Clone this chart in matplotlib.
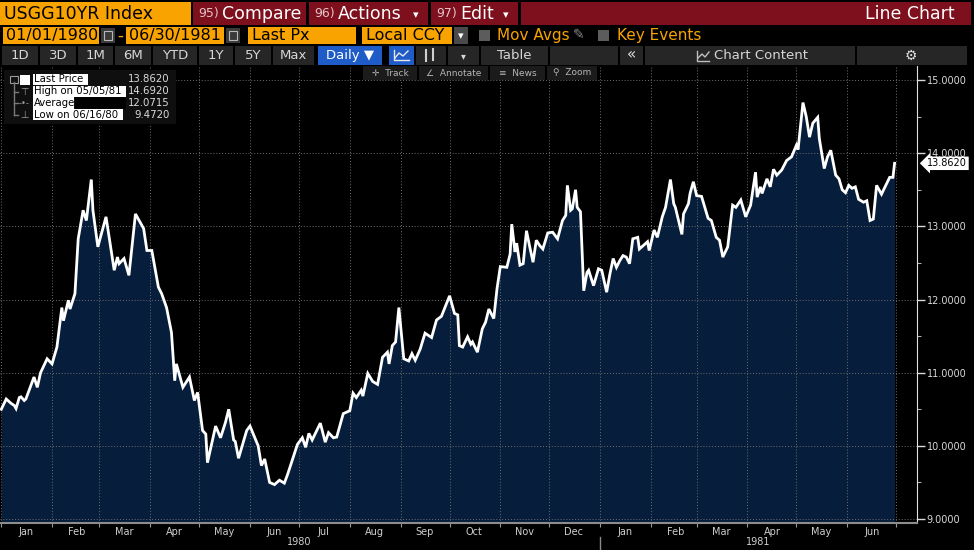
import matplotlib

matplotlib.use("Agg")
import matplotlib.dates as mdates  # noqa: E402
import matplotlib.pyplot as plt  # noqa: E402
import numpy as np  # noqa: E402
from matplotlib.lines import Line2D  # noqa: E402
from matplotlib.patches import Rectangle  # noqa: E402
from matplotlib.ticker import FuncFormatter, MultipleLocator, NullFormatter  # noqa: E402

# USGG10YR daily close (month-day, yield %)
dates_1980 = [
    "01-01", "01-04", "01-07", "01-09", "01-10", "01-12", "01-13", "01-15", "01-16", "01-21",
    "01-23", "01-25", "01-29", "02-01", "02-04", "02-07", "02-08", "02-11", "02-12", "02-15",
    "02-17", "02-20", "02-22", "02-25", "02-26", "02-29", "03-05", "03-10", "03-12", "03-13",
    "03-16", "03-19", "03-23", "03-28", "03-30", "04-02", "04-06", "04-08", "04-11", "04-14",
    "04-16", "04-17", "04-21", "04-25", "04-28", "04-30", "05-03", "05-05", "05-06", "05-11",
    "05-14", "05-17", "05-19", "05-22", "05-23", "05-25", "05-30", "06-01", "06-06", "06-08",
    "06-10", "06-13", "06-16", "06-19", "06-22", "06-24", "06-30", "07-03", "07-05", "07-07",
    "07-09", "07-14", "07-17", "07-19", "07-22", "07-24", "07-28", "08-01", "08-03", "08-05",
    "08-08", "08-09", "08-12", "08-15", "08-18", "08-21", "08-24", "08-25", "08-27", "08-29",
    "08-31", "09-03", "09-06", "09-08", "09-10", "09-13", "09-16", "09-18", "09-20", "09-23",
    "09-26", "10-01", "10-04", "10-06", "10-07", "10-09", "10-12", "10-14", "10-15", "10-18",
    "10-21", "10-23", "10-25", "10-28", "10-30", "11-01", "11-05", "11-07", "11-08", "11-10",
    "11-11", "11-13", "11-15", "11-17", "11-19", "11-21", "11-23", "11-25", "11-27", "11-30",
    "12-03", "12-06", "12-09", "12-11", "12-12", "12-14", "12-15", "12-17", "12-18", "12-20",
    "12-22", "12-24", "12-25", "12-28", "12-31",
]
yld_1980 = [
    10.50, 10.64, 10.58, 10.55, 10.51, 10.66, 10.67, 10.62, 10.64, 10.94,
    10.80, 11.00, 11.19, 11.12, 11.35, 11.89, 11.71, 11.99, 11.87, 12.08,
    12.83, 13.22, 13.08, 13.64, 13.22, 12.72, 13.13, 12.40, 12.58, 12.49,
    12.56, 12.33, 13.17, 12.97, 12.67, 12.67, 12.17, 12.08, 11.89, 11.55,
    10.89, 11.12, 10.80, 10.94, 10.62, 10.73, 10.21, 10.16, 9.77, 10.27,
    10.11, 10.32, 10.50, 10.08, 10.06, 9.83, 10.21, 10.27, 10.00, 9.73,
    9.82, 9.50, 9.47, 9.53, 9.49, 9.61, 10.02, 10.11, 9.98, 10.17,
    10.08, 10.31, 10.05, 10.18, 10.11, 10.12, 10.44, 10.48, 10.72, 10.66,
    10.76, 10.68, 10.99, 10.88, 10.84, 11.21, 11.28, 11.12, 11.37, 11.42,
    11.89, 11.19, 11.16, 11.26, 11.17, 11.32, 11.54, 11.51, 11.48, 11.72,
    11.77, 12.05, 11.81, 11.79, 11.37, 11.35, 11.49, 11.39, 11.42, 11.28,
    11.60, 11.69, 11.87, 11.74, 12.15, 12.45, 12.44, 12.62, 13.03, 12.65,
    12.77, 12.47, 12.49, 12.94, 12.72, 12.51, 12.81, 12.74, 12.69, 12.91,
    12.92, 12.83, 13.08, 13.15, 13.56, 13.22, 13.24, 13.50, 13.26, 13.20,
    12.12, 12.37, 12.40, 12.19, 12.42,
]
dates_1981 = [
    "01-02", "01-05", "01-07", "01-09", "01-11", "01-13", "01-15", "01-17", "01-19", "01-21",
    "01-24", "01-25", "01-30", "01-31", "02-03", "02-05", "02-08", "02-10", "02-13", "02-15",
    "02-16", "02-20", "02-21", "02-24", "02-25", "02-27", "03-01", "03-04", "03-08", "03-10",
    "03-13", "03-15", "03-17", "03-20", "03-23", "03-25", "03-28", "03-31", "04-03", "04-06",
    "04-07", "04-09", "04-10", "04-13", "04-15", "04-17", "04-19", "04-22", "04-25", "04-28",
    "05-01", "05-02", "05-05", "05-07", "05-09", "05-11", "05-14", "05-15", "05-18", "05-20",
    "05-22", "05-25", "05-27", "05-29", "05-31", "06-02", "06-04", "06-06", "06-08", "06-11",
    "06-13", "06-15", "06-17", "06-19", "06-22", "06-25", "06-27", "06-29", "06-30",
]
yld_1981 = [
    12.40, 12.10, 12.35, 12.56, 12.44, 12.53, 12.60, 12.58, 12.49, 12.83,
    12.85, 12.69, 12.79, 12.67, 12.95, 12.85, 13.13, 13.26, 13.64, 13.31,
    13.26, 12.89, 13.17, 13.31, 13.45, 13.61, 13.42, 13.41, 13.11, 13.08,
    12.85, 12.81, 12.58, 12.72, 13.29, 13.26, 13.36, 13.13, 13.29, 13.74,
    13.40, 13.54, 13.45, 13.65, 13.54, 13.78, 13.70, 13.77, 13.90, 13.95,
    14.11, 14.05, 14.692, 14.50, 14.22, 14.41, 14.49, 14.20, 13.79, 13.95,
    14.04, 13.70, 13.65, 13.50, 13.46, 13.56, 13.52, 13.54, 13.37, 13.33,
    13.35, 13.08, 13.10, 13.56, 13.44, 13.58, 13.67, 13.67, 13.862,
]

legend_labels = ["Last Price", "High on 05/05/81", "Average", "Low on 06/16/80"]
legend_values = ["13.8620", "14.6920", "12.0715", "9.4720"]
last_px = 13.862
range_buttons = ["1D", "3D", "1M", "6M", "YTD", "1Y", "5Y", "Max"]

W, H = 974, 550
ORANGE = "#f8a300"
RED = "#7e0f1d"
BTN = "#262626"
BLUE = "#1f5cc8"
FILL = "#061e3b"

dates = np.array([f"1980-{d}" for d in dates_1980] + [f"1981-{d}" for d in dates_1981],
                 dtype="datetime64[D]")
ylds = np.array(yld_1980 + yld_1981)

fig = plt.figure(figsize=(W / 100, H / 100), dpi=100, facecolor="black")


def rect(x0, y0, x1, y1, fc, ec="none", lw=0.8):
    fig.add_artist(Rectangle((x0 / W, 1 - y1 / H), (x1 - x0) / W, (y1 - y0) / H,
                             transform=fig.transFigure, fc=fc, ec=ec, lw=lw))


def txt(x, y, s, **kw):
    kw.setdefault("va", "center")
    fig.text(x / W, 1 - y / H, s, **kw)


def seg(xs, ys, color, lw=1.0):
    fig.add_artist(Line2D([x / W for x in xs], [1 - y / H for y in ys],
                          transform=fig.transFigure, color=color, lw=lw))


# ---- chart -----------------------------------------------------------------
ax = fig.add_axes([0, 1 - 523 / H, 917 / W, (523 - 66) / H])
ax.set_facecolor("black")
ax.fill_between(dates, ylds, 8.0, color=FILL, lw=0, zorder=1)
ax.plot(dates, ylds, color="white", lw=2.0, zorder=3, solid_joinstyle="miter")

d0 = mdates.date2num(np.datetime64("1980-01-01"))
ax.set_xlim(d0 - 0.8, d0 + 559.7)
ax.set_ylim(9 - 4 / 73, 15 + 14 / 73)

ax.yaxis.tick_right()
ax.yaxis.set_major_locator(MultipleLocator(1))
ax.yaxis.set_minor_locator(MultipleLocator(0.5))
ax.yaxis.set_major_formatter(FuncFormatter(lambda v, _: f"{v:.4f}"))
ax.tick_params(axis="y", which="major", length=6, width=1, color="#d8d8d8",
               labelcolor="#d8d8d8", labelsize=7, pad=1)
ax.tick_params(axis="y", which="minor", length=3, color="#d8d8d8")

ax.xaxis.set_major_locator(mdates.MonthLocator())
ax.xaxis.set_major_formatter(NullFormatter())
ax.xaxis.set_minor_locator(mdates.MonthLocator(bymonthday=16))
ax.xaxis.set_minor_formatter(mdates.DateFormatter("%b"))
ax.tick_params(axis="x", which="major", length=3, color="#9a9a9a")
ax.tick_params(axis="x", which="minor", length=0, labelsize=7, labelcolor="#cfcfcf", pad=3)

for s in ("top", "left"):
    ax.spines[s].set_visible(False)
ax.spines["right"].set_color("#e0e0e0")
ax.spines["bottom"].set_color("#8c8c8c")
ax.spines["bottom"].set_linewidth(1.5)
ax.grid(True, which="major", color="#6e6e6e", ls=(0, (1, 2)), lw=0.7)

# year labels under the months
jan81 = mdates.date2num(np.datetime64("1981-01-01"))
xt = ax.get_xaxis_transform()
ax.text(mdates.date2num(np.datetime64("1980-07-01")), -0.042, "1980", transform=xt,
        ha="center", va="center", size=7, color="#cfcfcf")
ax.text((jan81 + ax.get_xlim()[1]) / 2, -0.042, "1981", transform=xt,
        ha="center", va="center", size=7, color="#cfcfcf")
ax.plot([jan81, jan81], [-0.03, -0.057], transform=xt, clip_on=False,
        color="#8a8a8a", lw=1)

# last price tag on the right axis
ax.text(1.011, last_px, legend_values[0], transform=ax.get_yaxis_transform(),
        ha="left", va="center", size=7, color="black",
        bbox=dict(boxstyle="larrow,pad=0.18", fc="white", ec="none"))

# ---- header row 1 ----------------------------------------------------------
rect(0, 2, 191, 25, ORANGE)
txt(4, 14, "USGG10YR Index", size=12.5, color="black")
for x0, x1, num, word, arrow in [(193, 306, "95)", "Compare", False),
                                 (309, 428, "96)", "Actions", True),
                                 (431, 518, "97)", "Edit", True)]:
    rect(x0, 2, x1, 25, RED)
    txt(x0 + 5, 14, num, size=9, color="#e3c4c8")
    txt(x0 + 29, 14, word, size=12.5, color="white")
    if arrow:
        txt(x1 - 12, 15, "▾", size=8, color="white", ha="center")
rect(521, 2, 971, 25, RED)
txt(955, 14, "Line Chart", size=12.5, color="white", ha="right")

# ---- header row 2 ----------------------------------------------------------
rect(3, 27, 99, 44, ORANGE)
txt(6, 35.5, "01/01/1980", size=11.5, color="black")
txt(120, 35.5, "-", size=12, color=ORANGE, ha="center")
rect(126, 27, 224, 44, ORANGE)
txt(129, 35.5, "06/30/1981", size=11.5, color="black")
for cx in (108, 233):
    rect(cx - 7, 28, cx + 7, 43, "#3a3a3a")
    rect(cx - 4, 31, cx + 4, 40, "none", ec="#b8b8b8")
rect(248, 27, 356, 44, ORANGE)
txt(252, 35.5, "Last Px", size=11.5, color="black")
rect(362, 27, 452, 44, ORANGE)
txt(366, 35.5, "Local CCY", size=11.5, color="black")
rect(454, 27, 468, 44, "#4a4a4a")
txt(461, 36, "▾", size=8, color="white", ha="center")
rect(479, 30, 490, 41, "#5c5c5c")
txt(497, 35.5, "Mov Avgs", size=11, color=ORANGE)
txt(573, 35.5, "✎", size=10, color="#8a8a8a")
rect(598, 30, 609, 41, "#5c5c5c")
txt(617, 35.5, "Key Events", size=11, color=ORANGE)

# ---- header row 3 ----------------------------------------------------------
btn_x = [(2, 38), (40, 76), (78, 113), (115, 151), (153, 197), (199, 233), (235, 271), (273, 314)]
for (x0, x1), lab in zip(btn_x, range_buttons):
    rect(x0, 46, x1, 65, BTN)
    txt((x0 + x1) / 2, 55.5, lab, size=9.5, color="#d6d6d6", ha="center")
rect(318, 46, 382, 65, BLUE)
txt(350, 55.5, "Daily ▼", size=9.5, color="white", ha="center")
rect(389, 46, 414, 65, BLUE)
seg([394, 394, 409], [50, 60, 60], "#e8e8e8")
seg([395, 399, 403, 408], [58, 53, 56, 51], "#e8e8e8")
rect(416, 46, 446, 65, BTN)
seg([426, 426], [50, 61], "#d0d0d0", 1.5)
seg([433, 433], [49, 60], "#d0d0d0", 1.5)
rect(448, 46, 479, 65, BTN)
txt(463, 56, "▾", size=7, color="#d6d6d6", ha="center")
rect(481, 46, 548, 65, BTN)
txt(514, 55.5, "Table", size=9.5, color="#d6d6d6", ha="center")
rect(550, 46, 618, 65, BTN)
rect(620, 46, 643, 65, BTN)
txt(631, 55, "«", size=11, color="#e0e0e0", ha="center")
rect(645, 46, 855, 65, BTN)
txt(714, 55.5, "Chart Content", size=9.5, color="#d6d6d6")
seg([697, 697, 709], [51, 61, 61], "#bfbfbf")
seg([698, 702, 705, 709], [58, 54, 57, 52], "#bfbfbf")
rect(857, 46, 967, 65, BTN)
txt(911, 55.5, "⚙", size=10, color="#e0e0e0", ha="center")

# ---- chart toolbar (Track / Annotate / News / Zoom) ------------------------
for x0, x1, lab in [(363, 417, "✛  Track"), (419, 488, "∠  Annotate"),
                    (490, 545, "≡  News"), (547, 597, "⚲  Zoom")]:
    rect(x0, 66, x1, 80, "#1b1b1b")
    txt((x0 + x1) / 2, 73, lab, size=6.5, color="#b4b4b4", ha="center")

# ---- legend box ------------------------------------------------------------
rect(4, 70, 176, 124, "#0f0f0f")
row_y = [79.5, 91.5, 103, 114.5]
label_w = [55, 93, 41, 90]
seg([14, 14], [82, 115], "#7a7a7a")
for y in row_y[1:]:
    seg([14, 18], [y, y], "#7a7a7a")
rect(10, 76, 18, 83, "none", ec="#9a9a9a")
rect(20, 75, 30, 85, "white")
txt(24, row_y[1], "⊤", size=7, color="#9a9a9a", ha="center")
txt(24, row_y[2], "-•-", size=6, color="#9a9a9a", ha="center")
txt(24, row_y[3], "⊥", size=7, color="#9a9a9a", ha="center")
for y, lab, w, val in zip(row_y, legend_labels, label_w, legend_values):
    rect(33, y - 5.5, 33 + w, y + 5.5, "white")
    txt(34, y, lab, size=7.3, color="black")
    txt(170, y, val, size=7.3, color="#dcdcdc", ha="right")
rect(75, row_y[2] - 5.5, 126, row_y[2] + 5.5, "black")

fig.savefig("out.png", dpi=100, facecolor="black")
